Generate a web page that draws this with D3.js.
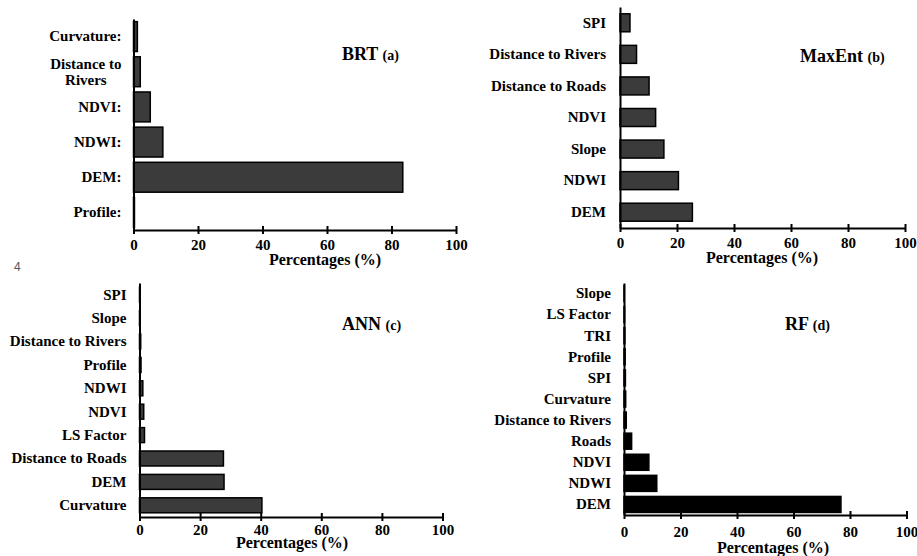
<!DOCTYPE html>
<html>
<head>
<meta charset="utf-8">
<script src="https://cdn.jsdelivr.net/npm/d3@7"></script>
<style>
body { margin: 0; background: #fff; }
</style>
</head>
<body>
<svg width="917" height="556"></svg>
<script>
var xTicks = [0, 20, 40, 60, 80, 100];

var brtFactors = ["Curvature:", "Distance to\nRivers", "NDVI:", "NDWI:", "DEM:", "Profile:"];
var brtValues = [1.2, 2.1, 5.2, 9.1, 83.5, 0.3];

var maxentFactors = ["SPI", "Distance to Rivers", "Distance to Roads", "NDVI", "Slope", "NDWI", "DEM"];
var maxentValues = [3.5, 5.8, 10.2, 12.5, 15.4, 20.5, 25.4];

var annFactors = ["SPI", "Slope", "Distance to Rivers", "Profile", "NDWI", "NDVI", "LS Factor", "Distance to Roads", "DEM", "Curvature"];
var annValues = [0.15, 0.2, 0.4, 0.5, 1.1, 1.4, 1.65, 27.7, 27.9, 40.4];

var rfFactors = ["Slope", "LS Factor", "TRI", "Profile", "SPI", "Curvature", "Distance to Rivers", "Roads", "NDVI", "NDWI", "DEM"];
var rfValues = [0.1, 0.2, 0.3, 0.4, 0.5, 0.6, 0.8, 2.7, 8.8, 11.6, 76.8];

var serif = "'Liberation Serif', 'DejaVu Serif', 'Times New Roman', serif";

// layout of the four panels (pixels)
var panels = [
  {name: "BRT", tag: "(a)", factors: brtFactors, values: brtValues, fill: "#3b3b3b",
   x0: 133.5, x1: 456, top: 19, bottom: 230, pad: 0.15, gap: 12, title: [342, 60], xlab: [325, 265], tickPad: 5},
  {name: "MaxEnt", tag: "(b)", factors: maxentFactors, values: maxentValues, fill: "#3b3b3b",
   x0: 620, x1: 905, top: 7, bottom: 228, pad: 0.43, gap: 14, title: [800, 62], xlab: [762, 263], tickPad: 5},
  {name: "ANN", tag: "(c)", factors: annFactors, values: annValues, fill: "#3b3b3b",
   x0: 139.5, x1: 442.5, top: 283, bottom: 517, pad: 0.36, gap: 13, title: [342, 330], xlab: [292, 548], tickPad: 3},
  {name: "RF", tag: "(d)", factors: rfFactors, values: rfValues, fill: "#000",
   x0: 624, x1: 906.5, top: 283, bottom: 515, pad: 0.24, gap: 13, title: [785, 330], xlab: [773, 553], tickPad: 7}
];

var svg = d3.select("svg");

panels.forEach(function(p) {
  var g = svg.append("g");
  var x = d3.scaleLinear().domain([0, 100]).range([p.x0, p.x1]);
  var y = d3.scaleBand().domain(p.factors).range([p.top, p.bottom]).paddingInner(p.pad).paddingOuter(p.pad / 2);

  // bars
  g.selectAll("rect").data(p.values).enter()
    .append("rect")
    .attr("x", x(0))
    .attr("y", function(d, i) { return y(p.factors[i]); })
    .attr("width", function(d) { return x(d) - x(0); })
    .attr("height", y.bandwidth())
    .attr("fill", p.fill)
    .attr("stroke", "#000")
    .attr("stroke-width", 1.5);

  // x axis, ticks cross the line
  var xa = g.append("g").attr("transform", "translate(0," + p.bottom + ")")
    .call(d3.axisBottom(x).tickValues(xTicks).tickSize(4).tickSizeOuter(0).tickPadding(p.tickPad));
  xa.select(".domain").attr("stroke-width", 2);
  xa.selectAll(".tick line").attr("y1", -4).attr("y2", 4).attr("stroke-width", 2);
  xa.selectAll(".tick text").style("font-size", "15px");

  // y axis, labels only
  var ya = g.append("g").attr("transform", "translate(" + p.x0 + ",0)")
    .call(d3.axisLeft(y).tickSize(0).tickSizeOuter(0).tickPadding(p.gap));
  ya.select(".domain").attr("stroke-width", 2);
  ya.selectAll(".tick text").style("font-size", "15px").style("font-family", serif).style("font-weight", "bold")
    .each(function(d) {
      if (d.indexOf("\n") < 0) return;
      var t = d3.select(this), lines = d.split("\n"), w = 0;
      t.text(null).attr("text-anchor", "middle").attr("dy", null);
      lines.forEach(function(s, k) {
        var sp = t.append("tspan").attr("x", 0).attr("dy", k == 0 ? "-0.2em" : "1.05em").text(s);
        w = Math.max(w, sp.node().getComputedTextLength());
      });
      t.selectAll("tspan").attr("x", -p.gap - w / 2);
    });
  g.selectAll(".domain, .tick line").attr("stroke", "#000");

  // panel title
  var tt = g.append("text").attr("x", p.title[0]).attr("y", p.title[1]);
  tt.append("tspan").style("font-size", "18px").text(p.name + " ");
  tt.append("tspan").style("font-size", "14px").text(p.tag);

  // axis title
  g.append("text").attr("x", p.xlab[0]).attr("y", p.xlab[1])
    .attr("text-anchor", "middle").style("font-size", "16px")
    .text("Percentages (%)");

  g.selectAll("text").style("font-family", serif).style("font-weight", "bold").attr("fill", "#000");
});

// stray page number in the source figure
svg.append("text").attr("x", 14).attr("y", 271)
  .style("font-family", "'Liberation Sans', Arial, sans-serif")
  .style("font-size", "12px").attr("fill", "#555").text("4");
</script>
</body>
</html>
